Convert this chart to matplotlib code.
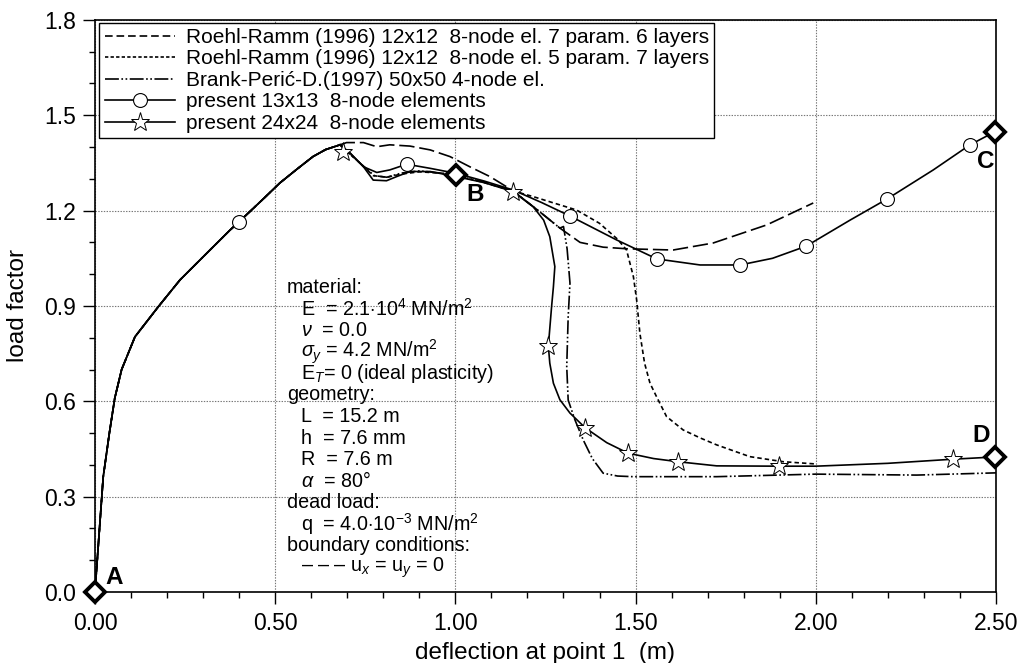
import matplotlib
matplotlib.use("Agg")
import matplotlib.pyplot as plt
from matplotlib.lines import Line2D
from matplotlib.ticker import MultipleLocator, FormatStrFormatter

plt.rcParams['font.family'] = ['Liberation Sans', 'DejaVu Sans']
plt.rcParams['mathtext.fontset'] = 'custom'
plt.rcParams['mathtext.rm'] = 'Liberation Sans'
plt.rcParams['mathtext.it'] = 'Liberation Sans:italic'
plt.rcParams['mathtext.bf'] = 'Liberation Sans:bold'
plt.rcParams['lines.scale_dashes'] = False

# ---------------- data ----------------
# common initial branch (all solutions coincide)
x_init = [0, 0.012, 0.023, 0.04, 0.055, 0.074, 0.111, 0.176, 0.236, 0.32, 0.375, 0.40,
          0.47, 0.513, 0.56, 0.605, 0.64, 0.68]
y_init = [0, 0.19, 0.363, 0.50, 0.61, 0.70, 0.803, 0.898, 0.982, 1.077, 1.139, 1.165,
          1.24, 1.287, 1.33, 1.37, 1.392, 1.407]

# Roehl-Ramm 7 param, 6 layers (long dash)
x_rr6 = [0.698, 0.745, 0.782, 0.818, 0.874, 0.93, 0.985, 1.04, 1.096, 1.142, 1.16, 1.23,
         1.29, 1.346, 1.41, 1.475, 1.604, 1.715, 1.864, 1.993]
y_rr6 = [1.414, 1.414, 1.401, 1.407, 1.403, 1.391, 1.37, 1.338, 1.307, 1.275, 1.262, 1.2,
         1.145, 1.10, 1.085, 1.08, 1.076, 1.098, 1.155, 1.224]

# Roehl-Ramm 5 param, 7 layers (short dash)
x_rr7 = [0.70, 0.74, 0.772, 0.81, 0.85, 0.9, 0.96, 1.003, 1.08, 1.16, 1.216, 1.27, 1.336,
         1.4, 1.45, 1.475, 1.494, 1.503, 1.512, 1.525, 1.54, 1.558, 1.586, 1.632, 1.679,
         1.725, 1.817, 1.91, 2.0]
y_rr7 = [1.385, 1.345, 1.31, 1.305, 1.315, 1.322, 1.318, 1.31, 1.288, 1.262, 1.244, 1.225,
         1.202, 1.16, 1.11, 1.076, 0.992, 0.919, 0.814, 0.72, 0.657, 0.615, 0.552, 0.51,
         0.485, 0.463, 0.426, 0.41, 0.403]

# Brank-Peric-D. 50x50 (dash-dot-dot)
x_bp = [0.70, 0.74, 0.775, 0.81, 0.85, 0.9, 0.96, 1.003, 1.08, 1.16, 1.23, 1.29, 1.30,
        1.31, 1.318, 1.313, 1.309, 1.313, 1.332, 1.355, 1.38, 1.41, 1.45, 1.493, 1.725,
        2.0, 2.28, 2.5]
y_bp = [1.385, 1.345, 1.31, 1.305, 1.318, 1.325, 1.318, 1.31, 1.29, 1.262, 1.2, 1.145,
        1.15, 1.08, 0.972, 0.866, 0.709, 0.604, 0.541, 0.478, 0.42, 0.374, 0.365, 0.363,
        0.363, 0.371, 0.368, 0.375]

# present 13x13 (circles)
x_p13 = [0.708, 0.745, 0.782, 0.818, 0.865, 0.93, 1.003, 1.08, 1.16, 1.24, 1.318, 1.447,
         1.559, 1.679, 1.79, 1.88, 1.973, 2.095, 2.197, 2.326, 2.428, 2.497]
y_p13 = [1.381, 1.338, 1.32, 1.328, 1.346, 1.333, 1.317, 1.293, 1.265, 1.225, 1.183, 1.108,
         1.048, 1.029, 1.029, 1.05, 1.088, 1.17, 1.236, 1.328, 1.407, 1.448]
xm_p13 = [0.40, 0.865, 1.318, 1.559, 1.79, 1.973, 2.197, 2.428]
ym_p13 = [1.165, 1.346, 1.183, 1.048, 1.029, 1.088, 1.236, 1.407]

# present 24x24 (stars)
x_p24 = [0.708, 0.745, 0.772, 0.809, 0.837, 0.874, 0.93, 1.003, 1.08, 1.16, 1.216, 1.245,
         1.262, 1.276, 1.272, 1.267, 1.258, 1.262, 1.272, 1.29, 1.318, 1.36, 1.42, 1.479,
         1.55, 1.618, 1.725, 1.898, 2.0, 2.2, 2.381, 2.497]
y_p24 = [1.381, 1.338, 1.296, 1.294, 1.307, 1.323, 1.323, 1.307, 1.288, 1.26, 1.212, 1.17,
         1.118, 1.024, 0.96, 0.898, 0.774, 0.72, 0.657, 0.605, 0.563, 0.517, 0.47, 0.437,
         0.42, 0.41, 0.397, 0.396, 0.396, 0.405, 0.418, 0.425]
xm_p24 = [0.688, 1.16, 1.258, 1.36, 1.479, 1.618, 1.898, 2.381]
ym_p24 = [1.385, 1.26, 0.774, 0.517, 0.437, 0.41, 0.396, 0.418]

# characteristic points
pt_labels = ['A', 'B', 'C', 'D']
pt_x = [0.0, 1.003, 2.497, 2.497]
pt_y = [0.0, 1.312, 1.448, 0.425]
lab_x = [0.053, 1.054, 2.472, 2.46]
lab_y = [0.047, 1.252, 1.353, 0.491]

legend_labels = ['Roehl-Ramm (1996) 12x12  8-node el. 7 param. 6 layers',
                 'Roehl-Ramm (1996) 12x12  8-node el. 5 param. 7 layers',
                 'Brank-Perić-D.(1997) 50x50 4-node el.',
                 'present 13x13  8-node elements',
                 'present 24x24  8-node elements']

info_lines = [
    (0, 'material:'),
    (1, r'E  = 2.1$\cdot$10$^4$ MN/m$^2$'),
    (1, r'$\nu$  = 0.0'),
    (1, r'$\sigma_y$ = 4.2 MN/m$^2$'),
    (1, r'E$_T$= 0 (ideal plasticity)'),
    (0, 'geometry:'),
    (1, 'L  = 15.2 m'),
    (1, 'h  = 7.6 mm'),
    (1, 'R  = 7.6 m'),
    (1, r'$\alpha$  = 80°'),
    (0, 'dead load:'),
    (1, r'q  = 4.0$\cdot$10$^{-3}$ MN/m$^2$'),
    (0, 'boundary conditions:'),
    (1, r'– – – u$_x$ = u$_y$ = 0'),
]

# ---------------- styles ----------------
LW = 1.2
ls_long = (0, (11, 3.5))
ls_short = (0, (3.2, 2.2))
ls_dd = (0, (10, 1.8, 1.2, 1.8, 1.2, 1.8))

fig = plt.figure(figsize=(10.21, 6.63), dpi=100)
ax = fig.add_axes([0.093, 0.107, 0.8825, 0.863])

# initial branch drawn in every style (overlapping)
for ls in [ls_long, ls_short, ls_dd, '-', '-']:
    ax.plot(x_init, y_init, color='black', lw=LW, linestyle=ls)

ax.plot([x_init[-1]] + x_rr6, [y_init[-1]] + y_rr6, color='black', lw=LW, linestyle=ls_long)
ax.plot([x_init[-1]] + x_rr7, [y_init[-1]] + y_rr7, color='black', lw=LW, linestyle=ls_short)
ax.plot([x_init[-1]] + x_bp, [y_init[-1]] + y_bp, color='black', lw=LW, linestyle=ls_dd)
ax.plot([x_init[-1]] + x_p13, [y_init[-1]] + y_p13, color='black', lw=LW, linestyle='-')
ax.plot([x_init[-1]] + x_p24, [y_init[-1]] + y_p24, color='black', lw=LW, linestyle='-')

ax.plot(xm_p13, ym_p13, linestyle='none', marker='o', markersize=10,
        markerfacecolor='white', markeredgecolor='black', markeredgewidth=0.8, zorder=5)
ax.plot(xm_p24, ym_p24, linestyle='none', marker='*', markersize=14,
        markerfacecolor='white', markeredgecolor='black', markeredgewidth=0.7, zorder=5)

ax.plot(pt_x, pt_y, linestyle='none', marker='D', markersize=10.5,
        markerfacecolor='white', markeredgecolor='black', markeredgewidth=2.8,
        zorder=6, clip_on=False)
for lab, lx, ly in zip(pt_labels, lab_x, lab_y):
    ax.text(lx, ly, lab, fontsize=17.5, fontweight='bold', ha='center', va='center', zorder=7)

# axes
ax.set_xlim(0, 2.5)
ax.set_ylim(0, 1.8)
ax.xaxis.set_major_locator(MultipleLocator(0.5))
ax.xaxis.set_minor_locator(MultipleLocator(0.1))
ax.yaxis.set_major_locator(MultipleLocator(0.3))
ax.yaxis.set_minor_locator(MultipleLocator(0.1))
ax.xaxis.set_major_formatter(FormatStrFormatter('%.2f'))
ax.yaxis.set_major_formatter(FormatStrFormatter('%.1f'))
ax.tick_params(which='both', direction='out', top=False, right=False, width=1.0,
               labelsize=16.5, colors='black')
ax.tick_params(which='major', length=8.5)
ax.tick_params(axis='x', which='major', pad=6)
ax.tick_params(axis='y', which='major', pad=5)
ax.tick_params(which='minor', length=4.5)
for s in ax.spines.values():
    s.set_linewidth(1.2)
ax.grid(True, which='major', linestyle=(0, (1, 1)), color='#777777', lw=0.8)
ax.set_axisbelow(True)

ax.set_xlabel('deflection at point 1  (m)', fontsize=17.5, labelpad=5)
ax.set_ylabel('load factor', fontsize=17.5, labelpad=11)

# legend
handles = [
    Line2D([], [], color='black', lw=LW, linestyle=(0, (5.5, 2.8))),
    Line2D([], [], color='black', lw=LW, linestyle=(0, (2.4, 1.6))),
    Line2D([], [], color='black', lw=LW, linestyle=ls_dd),
    Line2D([], [], color='black', lw=LW, marker='o', markersize=10,
           markerfacecolor='white', markeredgecolor='black', markeredgewidth=0.8),
    Line2D([], [], color='black', lw=LW, marker='*', markersize=14,
           markerfacecolor='white', markeredgecolor='black', markeredgewidth=0.7),
]
leg = ax.legend(handles, legend_labels, loc='upper left', bbox_to_anchor=(0.005, 0.995),
                borderaxespad=0, fontsize=15, handlelength=3.4, handletextpad=0.5,
                labelspacing=0.12, borderpad=0.25, frameon=True, fancybox=False,
                framealpha=1, edgecolor='black')
leg.get_frame().set_linewidth(1.0)
leg.set_zorder(10)

# info text block
y0 = 0.533
dy = 0.0377
for i, (ind, s) in enumerate(info_lines):
    xx = 0.213 if ind == 0 else 0.229
    ax.text(xx, y0 - i * dy, s, transform=ax.transAxes, fontsize=14.2,
            ha='left', va='center', zorder=8)

fig.savefig('out.png', dpi=100)
